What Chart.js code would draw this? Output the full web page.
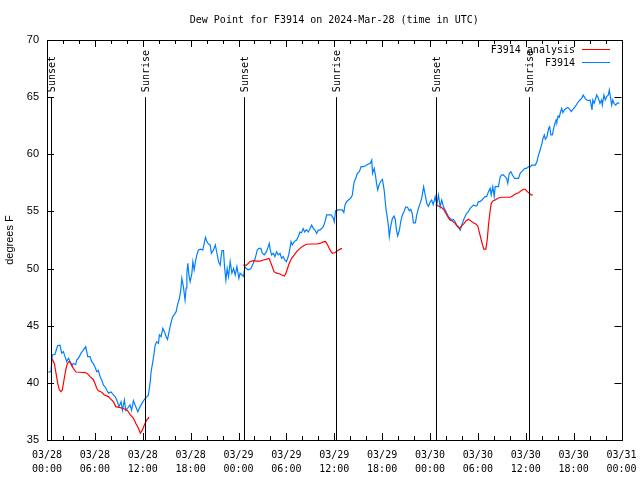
<!DOCTYPE html>
<html>
<head>
<meta charset="utf-8">
<script src="https://cdn.jsdelivr.net/npm/chart.js@4.4.1/dist/chart.umd.min.js"></script>
<style>
  html, body { margin: 0; padding: 0; background: #ffffff; }
  #wrap { width: 640px; height: 480px; }
</style>
</head>
<body>
<div id="wrap"><canvas id="dewChart"></canvas></div>
<script>
// hours since 03/28 00:00 UTC, dew point in degrees F
const obsHours = [0.16, 0.5, 0.67, 1.0, 1.34, 1.63, 1.84, 2.05, 2.26, 2.47, 2.68, 2.89, 3.1, 3.3, 3.6, 3.72, 3.93, 4.27, 4.56, 4.85, 4.98, 5.1, 5.4, 5.6, 5.8, 6.0, 6.24, 6.44, 6.65, 6.86, 7.07, 7.28, 7.49, 7.7, 8.03, 8.32, 8.53, 8.74, 9.03, 9.28, 9.45, 9.7, 9.87, 10.1, 10.4, 10.6, 10.83, 11.04, 11.38, 11.67, 11.96, 12.3, 12.7, 12.92, 13.05, 13.26, 13.43, 13.55, 13.76, 13.97, 14.09, 14.3, 14.52, 14.72, 14.93, 15.1, 15.35, 15.52, 15.72, 15.93, 16.18, 16.35, 16.6, 16.77, 16.9, 17.1, 17.3, 17.44, 17.53, 17.65, 17.78, 17.94, 18.16, 18.28, 18.44, 18.6, 18.78, 18.98, 19.2, 19.53, 19.7, 19.86, 20.04, 20.24, 20.45, 20.6, 20.87, 21.1, 21.3, 21.5, 21.7, 21.92, 22.12, 22.25, 22.42, 22.58, 22.75, 22.96, 23.17, 23.38, 23.59, 23.8, 24.05, 24.2, 24.43, 24.63, 24.8, 25.0, 25.2, 25.55, 25.85, 26.1, 26.35, 26.56, 26.8, 26.98, 27.23, 27.5, 27.73, 27.85, 27.98, 28.14, 28.36, 28.56, 28.77, 28.98, 29.2, 29.4, 29.6, 29.8, 30.0, 30.24, 30.45, 30.58, 30.74, 30.99, 31.28, 31.5, 31.7, 31.9, 32.1, 32.3, 32.5, 32.75, 32.96, 33.17, 33.38, 33.58, 33.8, 34.0, 34.2, 34.42, 34.63, 34.84, 35.05, 35.35, 35.6, 35.9, 36.0, 36.17, 36.5, 37.0, 37.2, 37.35, 37.55, 37.77, 38.05, 38.27, 38.4, 38.5, 38.7, 38.9, 39.15, 39.36, 39.65, 39.86, 40.06, 40.28, 40.5, 40.7, 40.8, 41.0, 41.16, 41.3, 41.45, 41.6, 41.8, 42.03, 42.16, 42.28, 42.37, 42.5, 42.66, 42.8, 42.9, 43.07, 43.29, 43.5, 43.66, 43.8, 43.95, 44.17, 44.33, 44.54, 44.75, 44.96, 45.17, 45.42, 45.58, 45.76, 45.92, 46.17, 46.34, 46.55, 46.76, 46.96, 47.1, 47.2, 47.4, 47.6, 47.8, 48.0, 48.2, 48.4, 48.65, 48.85, 49.06, 49.27, 49.47, 49.69, 49.9, 50.1, 50.31, 50.52, 50.73, 50.94, 51.15, 51.35, 51.57, 51.78, 51.98, 52.2, 52.4, 52.6, 52.8, 53.03, 53.24, 53.45, 53.66, 53.86, 54.07, 54.28, 54.5, 54.7, 54.9, 55.1, 55.33, 55.54, 55.67, 55.87, 56.05, 56.17, 56.37, 56.58, 56.8, 57.0, 57.2, 57.4, 57.6, 57.75, 57.93, 58.14, 58.34, 58.6, 58.9, 59.1, 59.3, 59.5, 59.7, 59.9, 60.1, 60.35, 60.56, 60.76, 61.2, 61.4, 61.6, 61.8, 62.03, 62.16, 62.33, 62.45, 62.66, 62.87, 63.0, 63.15, 63.33, 63.5, 63.6, 63.8, 63.9, 64.05, 64.2, 64.32, 64.5, 64.66, 64.83, 65.08, 65.28, 65.5, 65.7, 65.9, 66.2, 66.4, 66.6, 66.8, 67.0, 67.2, 67.45, 67.65, 67.87, 68.07, 68.2, 68.3, 68.4, 68.57, 68.7, 68.9, 69.1, 69.3, 69.5, 69.6, 69.8, 69.96, 70.14, 70.35, 70.47, 70.64, 70.77, 70.9, 71.06, 71.27, 71.48, 71.73];
const obsValues = [40.93, 41.0, 42.44, 42.5, 43.26, 43.3, 42.6, 42.73, 42.3, 41.86, 42.15, 41.86, 41.5, 41.7, 41.6, 42.0, 42.15, 42.6, 42.88, 43.17, 42.73, 42.3, 42.3, 41.86, 41.7, 41.4, 40.98, 41.1, 40.54, 40.25, 39.8, 39.66, 39.37, 39.1, 39.2, 38.94, 38.8, 38.5, 37.92, 38.35, 37.6, 38.5, 37.6, 37.78, 38.07, 37.6, 38.44, 38.07, 37.48, 37.92, 38.27, 38.65, 38.9, 39.97, 40.98, 41.86, 42.6, 43.3, 43.6, 43.46, 44.2, 44.04, 44.77, 44.48, 44.04, 43.8, 44.63, 45.2, 45.74, 45.94, 46.23, 46.8, 47.4, 48.13, 49.15, 48.4, 47.25, 48.3, 49.6, 50.46, 49.44, 48.85, 49.6, 50.6, 49.88, 50.6, 51.2, 51.63, 51.7, 51.63, 52.2, 52.74, 52.36, 52.15, 52.07, 51.34, 51.63, 52.07, 51.34, 50.6, 50.3, 51.57, 51.57, 50.17, 49.0, 50.0, 49.3, 50.6, 49.6, 50.0, 49.44, 50.17, 49.15, 49.6, 49.44, 49.3, 50.17, 50.0, 49.88, 50.0, 50.46, 50.9, 51.63, 51.77, 51.77, 51.34, 51.2, 51.48, 51.92, 52.2, 51.63, 51.2, 51.34, 51.05, 51.48, 51.2, 51.34, 50.9, 51.05, 50.75, 50.6, 51.05, 51.77, 52.36, 52.07, 52.36, 52.5, 52.8, 53.2, 53.14, 53.5, 53.2, 53.4, 53.2, 53.5, 53.8, 53.5, 53.37, 53.08, 53.37, 53.37, 53.5, 53.66, 54.1, 54.7, 54.7, 54.7, 54.4, 54.1, 55.07, 55.13, 55.13, 54.9, 55.56, 55.85, 56.0, 56.15, 56.44, 57.17, 57.6, 57.9, 58.34, 58.48, 58.92, 58.92, 58.97, 59.06, 59.15, 59.2, 59.5, 58.34, 58.77, 58.19, 57.46, 56.88, 57.3, 57.6, 57.8, 57.3, 56.73, 56.0, 55.13, 54.4, 53.67, 52.8, 53.67, 54.4, 54.6, 54.25, 53.37, 52.85, 53.37, 54.1, 54.7, 54.98, 55.4, 55.37, 55.07, 55.19, 54.84, 54.0, 54.0, 54.7, 55.27, 55.7, 56.15, 56.73, 57.17, 56.44, 55.7, 55.45, 55.8, 56.0, 55.6, 56.3, 55.56, 56.44, 55.4, 56.0, 55.4, 55.13, 54.84, 54.55, 54.4, 54.25, 54.3, 54.1, 53.8, 53.67, 53.37, 53.8, 54.25, 54.55, 54.84, 54.98, 55.27, 55.42, 55.56, 55.48, 55.48, 55.85, 55.85, 56.0, 56.15, 56.3, 56.3, 56.73, 57.03, 56.44, 57.17, 56.3, 57.17, 57.17, 57.17, 58.04, 58.19, 58.19, 58.04, 57.9, 57.46, 58.34, 58.48, 58.19, 57.9, 57.9, 57.9, 58.34, 58.48, 58.63, 58.77, 58.77, 58.92, 58.9, 59.06, 59.06, 59.35, 59.94, 60.37, 60.96, 61.4, 61.69, 61.31, 61.54, 62.27, 62.42, 61.69, 61.69, 62.27, 62.56, 63.0, 62.85, 63.35, 63.24, 63.59, 64.02, 63.64, 63.88, 64.02, 64.1, 63.94, 63.73, 63.94, 64.16, 64.4, 64.6, 64.75, 64.9, 65.19, 64.9, 64.75, 64.7, 64.75, 64.3, 63.88, 64.75, 64.46, 64.75, 65.19, 64.9, 64.46, 64.75, 64.3, 65.19, 64.75, 65.04, 65.19, 65.63, 64.9, 64.3, 64.75, 64.46, 64.3, 64.5, 64.46];

// analysis series, null marks the gaps
const anaHours = [0.67, 0.92, 1.13, 1.34, 1.55, 1.76, 1.92, 2.13, 2.35, 2.55, 2.76, 3.0, 3.3, 3.64, 4.14, 4.77, 5.1, 5.4, 5.8, 6.0, 6.24, 6.44, 6.86, 7.2, 7.7, 8.03, 8.32, 8.62, 9.03, 9.45, 9.79, 10.1, 10.45, 10.83, 11.13, 11.46, 11.7, 11.96, 12.2, 12.5, 12.8, 18, 24.6, 25.0, 25.43, 25.85, 26.26, 26.7, 27.1, 27.5, 27.8, 28.0, 28.23, 28.44, 28.77, 29.2, 29.5, 29.74, 29.95, 30.15, 30.36, 30.65, 30.99, 31.28, 31.7, 32.1, 32.5, 33.17, 33.8, 34.2, 34.63, 34.92, 35.17, 35.47, 35.76, 36.1, 36.42, 36.73, 36.98, 42, 48.7, 49.06, 49.4, 49.7, 49.98, 50.23, 50.5, 50.8, 51.15, 51.44, 51.7, 51.98, 52.28, 52.53, 52.8, 53.1, 53.45, 53.74, 53.99, 54.16, 54.37, 54.58, 54.75, 55.0, 55.17, 55.33, 55.5, 55.67, 55.88, 56.17, 56.5, 56.93, 57.43, 58.06, 58.34, 58.7, 59.1, 59.43, 59.72, 59.93, 60.2, 60.46, 60.68, 60.88];
const anaValues = [42.06, 41.7, 40.84, 39.97, 39.37, 39.23, 39.37, 40.25, 41.13, 41.7, 41.86, 41.7, 41.27, 40.95, 40.93, 40.9, 40.78, 40.54, 40.3, 39.97, 39.53, 39.3, 39.18, 38.94, 38.8, 38.56, 38.35, 37.92, 37.86, 37.78, 37.69, 37.57, 37.2, 36.9, 36.47, 36.03, 35.6, 35.88, 36.32, 36.75, 36.99, null, 50.3, 50.3, 50.6, 50.7, 50.66, 50.66, 50.75, 50.8, 50.9, 50.6, 50.17, 49.73, 49.6, 49.53, 49.41, 49.35, 49.6, 50.03, 50.46, 50.9, 51.2, 51.48, 51.77, 51.98, 52.13, 52.15, 52.15, 52.2, 52.33, 52.36, 52.07, 51.63, 51.34, 51.4, 51.57, 51.7, 51.77, null, 55.56, 55.48, 55.36, 55.19, 54.84, 54.55, 54.25, 54.16, 53.96, 53.67, 53.52, 53.73, 53.96, 54.19, 54.31, 54.19, 54.0, 53.9, 53.73, 53.23, 52.65, 52.07, 51.7, 51.7, 52.5, 53.8, 54.84, 55.7, 55.91, 56.0, 56.15, 56.24, 56.24, 56.24, 56.35, 56.53, 56.64, 56.82, 56.94, 56.94, 56.73, 56.59, 56.44, 56.44];

// sunrise / sunset markers
const sunHours = [0.5, 12.33, 24.63, 36.26, 48.72, 60.39];
const sunLabels = ["Sunset", "Sunrise", "Sunset", "Sunrise", "Sunset", "Sunrise"];

const yTicks = [35, 40, 45, 50, 55, 60, 65, 70];

const monoFont = "'DejaVu Sans Mono', monospace";
const sansFont = "'Liberation Sans', Arial, sans-serif";

function toPoints(xs, ys) {
  return xs.map((x, i) => ({ x: x, y: ys[i] }));
}

function tickLabel(v) {
  const day = 28 + Math.floor(v / 24);
  const hh = String(v % 24).padStart(2, '0');
  return ["03/" + day, hh + ":00"];
}

// frame, inward ticks, sun markers and legend
const decorPlugin = {
  id: 'decor',
  afterDatasetsDraw(chart) {
    const ctx = chart.ctx;
    const a = chart.chartArea;
    const xs = chart.scales.x;
    const ys = chart.scales.y;
    ctx.save();
    ctx.strokeStyle = '#000000';
    ctx.lineWidth = 1;

    // sun lines + rotated labels
    const lineTop = ys.getPixelForValue(65);
    ctx.font = "10px " + monoFont;
    ctx.fillStyle = '#000000';
    sunHours.forEach((h, i) => {
      const px = Math.round(xs.getPixelForValue(h)) + 0.5;
      ctx.beginPath();
      ctx.moveTo(px, lineTop);
      ctx.lineTo(px, a.bottom);
      ctx.stroke();
      ctx.save();
      ctx.translate(px + 1, lineTop - 5);
      ctx.rotate(-Math.PI / 2);
      ctx.textAlign = 'left';
      ctx.textBaseline = 'middle';
      ctx.fillText(sunLabels[i], 0, 0);
      ctx.restore();
    });

    // frame
    ctx.strokeRect(Math.round(a.left) + 0.5, Math.round(a.top) + 0.5,
      Math.round(a.right - a.left), Math.round(a.bottom - a.top));

    // x ticks every 2 hours, longer every 6
    ctx.beginPath();
    for (let h = 0; h <= 72; h += 2) {
      const px = Math.round(xs.getPixelForValue(h)) + 0.5;
      const len = (h % 6 === 0) ? 7 : 4;
      ctx.moveTo(px, a.bottom);
      ctx.lineTo(px, a.bottom - len);
      ctx.moveTo(px, a.top);
      ctx.lineTo(px, a.top + len);
    }
    yTicks.forEach(v => {
      const py = Math.round(ys.getPixelForValue(v)) + 0.5;
      ctx.moveTo(a.left, py);
      ctx.lineTo(a.left + 7, py);
      ctx.moveTo(a.right, py);
      ctx.lineTo(a.right - 7, py);
    });
    ctx.stroke();

    // legend, top right inside plot
    const rows = chart.data.datasets;
    ctx.font = "10px " + monoFont;
    ctx.textAlign = 'right';
    ctx.textBaseline = 'middle';
    rows.forEach((ds, i) => {
      const y = 50 + i * 13;
      ctx.fillStyle = '#000000';
      ctx.fillText(ds.label, 575, y);
      ctx.strokeStyle = ds.borderColor;
      ctx.beginPath();
      ctx.moveTo(582, y - 0.5);
      ctx.lineTo(610, y - 0.5);
      ctx.stroke();
    });
    ctx.restore();
  }
};

new Chart(document.getElementById("dewChart"), {
  type: "line",
  data: {
    datasets: [{
      label: "F3914 analysis",
      data: toPoints(anaHours, anaValues),
      borderColor: "#ff0000",
      borderWidth: 1.2,
      pointRadius: 0,
      tension: 0,
      spanGaps: false
    }, {
      label: "F3914",
      data: toPoints(obsHours, obsValues),
      borderColor: "#0080ff",
      borderWidth: 1.2,
      pointRadius: 0,
      tension: 0
    }]
  },
  options: {
    responsive: true,
    maintainAspectRatio: false,
    animation: false,
    layout: {
      padding: { left: 0, right: 18.5, top: 0, bottom: 0 }
    },
    plugins: {
      legend: { display: false },
      tooltip: { enabled: false },
      title: {
        display: true,
        fullSize: false,
        text: "Dew Point for F3914 on 2024-Mar-28 (time in UTC)",
        color: "#000000",
        font: { family: monoFont, size: 10, weight: "normal" },
        padding: { top: 14, bottom: 14 }
      }
    },
    scales: {
      x: {
        type: "linear",
        min: 0,
        max: 72,
        afterFit: function(scale) {
          scale.height = 40;
          scale.paddingLeft = 0;
          scale.paddingRight = 0;
        },
        grid: { display: false, drawTicks: false },
        border: { display: false },
        ticks: {
          stepSize: 6,
          padding: 8,
          maxRotation: 0,
          autoSkip: false,
          color: "#000000",
          font: { family: monoFont, size: 10, lineHeight: 1.4 },
          callback: function(value) { return tickLabel(value); }
        }
      },
      y: {
        min: 35,
        max: 70,
        afterFit: function(scale) { scale.width = 47; },
        grid: { display: false, drawTicks: false },
        border: { display: false },
        title: {
          display: true,
          text: "degrees F",
          color: "#000000",
          font: { family: sansFont, size: 11 },
          padding: { top: 3, bottom: 0 }
        },
        ticks: {
          stepSize: 5,
          padding: 8,
          color: "#000000",
          font: { family: sansFont, size: 11 }
        }
      }
    }
  },
  plugins: [decorPlugin]
});
</script>
</body>
</html>
